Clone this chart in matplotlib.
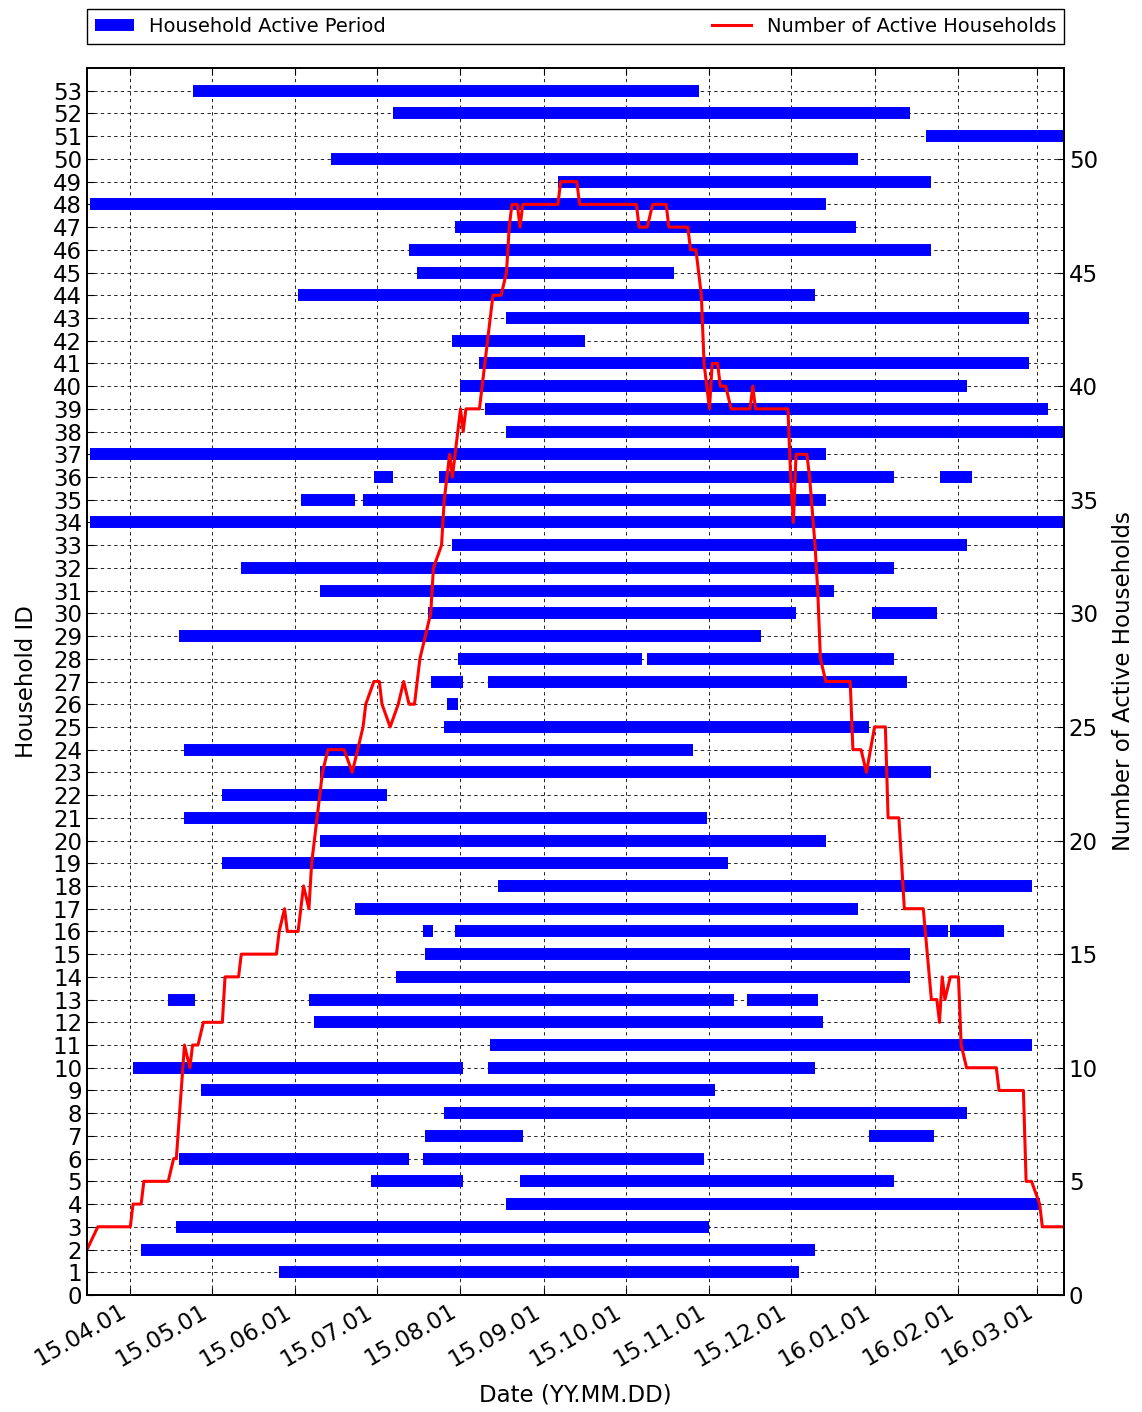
import numpy as np
import matplotlib
matplotlib.use('Agg')
import matplotlib.pyplot as plt
import matplotlib.dates as mdates
import pandas as pd

# household active periods (id, start, end) - one row per segment
bar_ids = [53, 52, 51, 50, 49, 48, 47, 46, 45, 44, 43, 42, 41, 40, 39, 38, 37,
           36, 36, 36, 35, 35, 34, 33, 32, 31, 30, 30, 29, 28, 28, 27, 27, 26,
           25, 24, 23, 22, 21, 20, 19, 18, 17, 16, 16, 16, 15, 14, 13, 13, 13,
           12, 11, 10, 10, 9, 8, 7, 7, 6, 6, 5, 5, 4, 3, 2, 1]
bar_start = ['2015-04-24', '2015-07-07', '2016-01-20', '2015-06-14', '2015-09-06',
             '2015-03-17', '2015-07-30', '2015-07-13', '2015-07-16', '2015-06-02',
             '2015-08-18', '2015-07-29', '2015-08-08', '2015-08-01', '2015-08-10',
             '2015-08-18', '2015-03-17',
             '2015-06-30', '2015-07-24', '2016-01-25',
             '2015-06-03', '2015-06-26',
             '2015-03-17', '2015-07-29', '2015-05-12', '2015-06-10',
             '2015-07-20', '2015-12-31',
             '2015-04-19',
             '2015-07-31', '2015-10-09',
             '2015-07-21', '2015-08-11',
             '2015-07-27', '2015-07-26', '2015-04-21', '2015-06-10', '2015-05-05',
             '2015-04-21', '2015-06-10', '2015-05-05', '2015-08-15', '2015-06-23',
             '2015-07-18', '2015-07-30', '2016-01-29',
             '2015-07-19', '2015-07-08',
             '2015-04-15', '2015-06-06', '2015-11-15',
             '2015-06-08', '2015-08-12',
             '2015-04-02', '2015-08-11',
             '2015-04-27', '2015-07-26',
             '2015-07-19', '2015-12-30',
             '2015-04-19', '2015-07-18',
             '2015-06-29', '2015-08-23',
             '2015-08-18', '2015-04-18', '2015-04-05', '2015-05-26']
bar_end = ['2015-10-28', '2016-01-14', '2016-03-11', '2015-12-26', '2016-01-22',
           '2015-12-14', '2015-12-25', '2016-01-22', '2015-10-19', '2015-12-10',
           '2016-02-27', '2015-09-16', '2016-02-27', '2016-02-04', '2016-03-05',
           '2016-03-11', '2015-12-14',
           '2015-07-07', '2016-01-08', '2016-02-06',
           '2015-06-23', '2015-12-14',
           '2016-03-11', '2016-02-04', '2016-01-08', '2015-12-17',
           '2015-12-03', '2016-01-24',
           '2015-11-20',
           '2015-10-07', '2016-01-08',
           '2015-08-02', '2016-01-13',
           '2015-07-31', '2015-12-30', '2015-10-26', '2016-01-22', '2015-07-05',
           '2015-10-31', '2015-12-14', '2015-11-08', '2016-02-28', '2015-12-26',
           '2015-07-22', '2016-01-28', '2016-02-18',
           '2016-01-14', '2016-01-14',
           '2015-04-25', '2015-11-10', '2015-12-11',
           '2015-12-13', '2016-02-28',
           '2015-08-02', '2015-12-10',
           '2015-11-03', '2016-02-04',
           '2015-08-24', '2016-01-23',
           '2015-07-13', '2015-10-30',
           '2015-08-02', '2016-01-08',
           '2016-03-02', '2015-11-01', '2015-12-10', '2015-12-04']

# number of active households
cnt_dates = ['2015-03-16', '2015-03-20', '2015-04-01', '2015-04-02', '2015-04-05',
             '2015-04-06', '2015-04-15', '2015-04-17', '2015-04-18', '2015-04-21',
             '2015-04-23', '2015-04-24', '2015-04-26', '2015-04-28', '2015-05-05',
             '2015-05-06', '2015-05-11', '2015-05-12', '2015-05-25', '2015-05-26',
             '2015-05-28', '2015-05-29', '2015-06-02', '2015-06-04', '2015-06-06',
             '2015-06-07', '2015-06-08', '2015-06-09', '2015-06-10', '2015-06-11',
             '2015-06-13', '2015-06-19', '2015-06-22', '2015-06-24', '2015-06-26',
             '2015-06-27', '2015-06-30', '2015-07-02', '2015-07-03', '2015-07-06',
             '2015-07-09', '2015-07-11', '2015-07-13', '2015-07-15', '2015-07-16',
             '2015-07-17', '2015-07-19', '2015-07-21', '2015-07-22', '2015-07-25',
             '2015-07-26', '2015-07-27', '2015-07-28', '2015-07-29', '2015-07-30',
             '2015-07-31', '2015-08-01', '2015-08-02', '2015-08-03', '2015-08-08',
             '2015-08-09', '2015-08-10', '2015-08-11', '2015-08-12', '2015-08-13',
             '2015-08-16', '2015-08-18', '2015-08-19', '2015-08-20', '2015-08-22',
             '2015-08-23', '2015-08-24', '2015-09-06', '2015-09-07', '2015-09-13',
             '2015-09-14', '2015-10-05', '2015-10-06', '2015-10-09', '2015-10-11',
             '2015-10-16', '2015-10-17', '2015-10-24', '2015-10-25', '2015-10-27',
             '2015-10-28', '2015-10-29', '2015-10-30', '2015-10-31', '2015-11-01',
             '2015-11-02', '2015-11-04', '2015-11-05', '2015-11-07', '2015-11-09',
             '2015-11-16', '2015-11-17', '2015-11-18', '2015-11-30', '2015-12-01',
             '2015-12-02', '2015-12-03', '2015-12-07', '2015-12-08', '2015-12-10',
             '2015-12-11', '2015-12-12', '2015-12-14', '2015-12-23', '2015-12-24',
             '2015-12-27', '2015-12-29', '2016-01-01', '2016-01-05', '2016-01-06',
             '2016-01-10', '2016-01-12', '2016-01-19', '2016-01-22', '2016-01-24',
             '2016-01-25', '2016-01-26', '2016-01-27', '2016-01-29', '2016-02-01',
             '2016-02-02', '2016-02-04', '2016-02-15', '2016-02-16', '2016-02-25',
             '2016-02-26', '2016-02-28', '2016-03-02', '2016-03-03', '2016-03-11']
cnt_values = [2, 3, 3, 4, 4,
              5, 5, 6, 6, 11,
              10, 11, 11, 12, 12,
              14, 14, 15, 15, 16,
              17, 16, 16, 18, 17,
              19, 20, 21, 22, 23,
              24, 24, 23, 24, 25,
              26, 27, 27, 26, 25,
              26, 27, 26, 26, 27,
              28, 29, 30, 32, 33,
              35, 36, 37, 36, 37,
              38, 39, 38, 39, 39,
              40, 41, 42, 43, 44,
              44, 45, 47, 48, 48,
              47, 48, 48, 49, 49,
              48, 48, 47, 47, 48,
              48, 47, 47, 46, 46,
              45, 44, 41, 40, 39,
              41, 41, 40, 40, 39,
              39, 40, 39, 39, 36,
              34, 37, 37, 36, 33,
              31, 28, 27, 27, 24,
              24, 23, 25, 25, 21,
              21, 17, 17, 13, 13,
              12, 14, 13, 14, 14,
              11, 10, 10, 9, 9,
              5, 5, 4, 3, 3]

x_min, x_max = '2015-03-16', '2016-03-11'

fig = plt.figure(figsize=(11.42, 14.12), dpi=100)
ax = fig.add_axes([0.0762, 0.0829, 0.8555, 0.8689])

starts = pd.to_datetime(bar_start)
ends = pd.to_datetime(bar_end)
for i in range(len(bar_ids)):
    h, = ax.plot([starts[i], ends[i]], [bar_ids[i], bar_ids[i]], color='b',
                 lw=8.6, solid_capstyle='butt')

ax.set_xlim(pd.Timestamp(x_min), pd.Timestamp(x_max))
ax.set_ylim(0, 54)
ax.set_yticks(range(0, 54))
ax.xaxis.set_major_locator(mdates.MonthLocator())
ax.xaxis.set_major_formatter(mdates.DateFormatter('%y.%m.%d'))
ax.tick_params(direction='in', top=True, right=False, labelsize=16.5, length=5)
plt.setp(ax.get_xticklabels(), rotation=30, ha='right')
ax.grid(True, color='k', linestyle=(0, (4, 4)), linewidth=0.6)
ax.set_xlabel('Date (YY.MM.DD)', fontsize=16.5, labelpad=9)
ax.set_ylabel('Household ID', fontsize=16.5, labelpad=11)

ax2 = ax.twinx()
l2, = ax2.plot(pd.to_datetime(cnt_dates), cnt_values, color='r', lw=2.2)
ax2.set_ylim(0, 54)
ax2.set_yticks(range(0, 51, 5))
ax2.tick_params(direction='in', labelsize=16.5, length=5)
ax2.set_ylabel('Number of Active Households', fontsize=16.5, labelpad=10)

for a in (ax, ax2):
    for s in a.spines.values():
        s.set_linewidth(1.3)

ax.legend([h, l2], ['Household Active Period', 'Number of Active Households'],
          bbox_to_anchor=(0, 1.0196, 1, 0.0293), loc='lower left', ncol=2,
          mode='expand', borderaxespad=0, fancybox=False, edgecolor='k',
          fontsize=14, framealpha=1)

fig.savefig('out.png', dpi=100)
